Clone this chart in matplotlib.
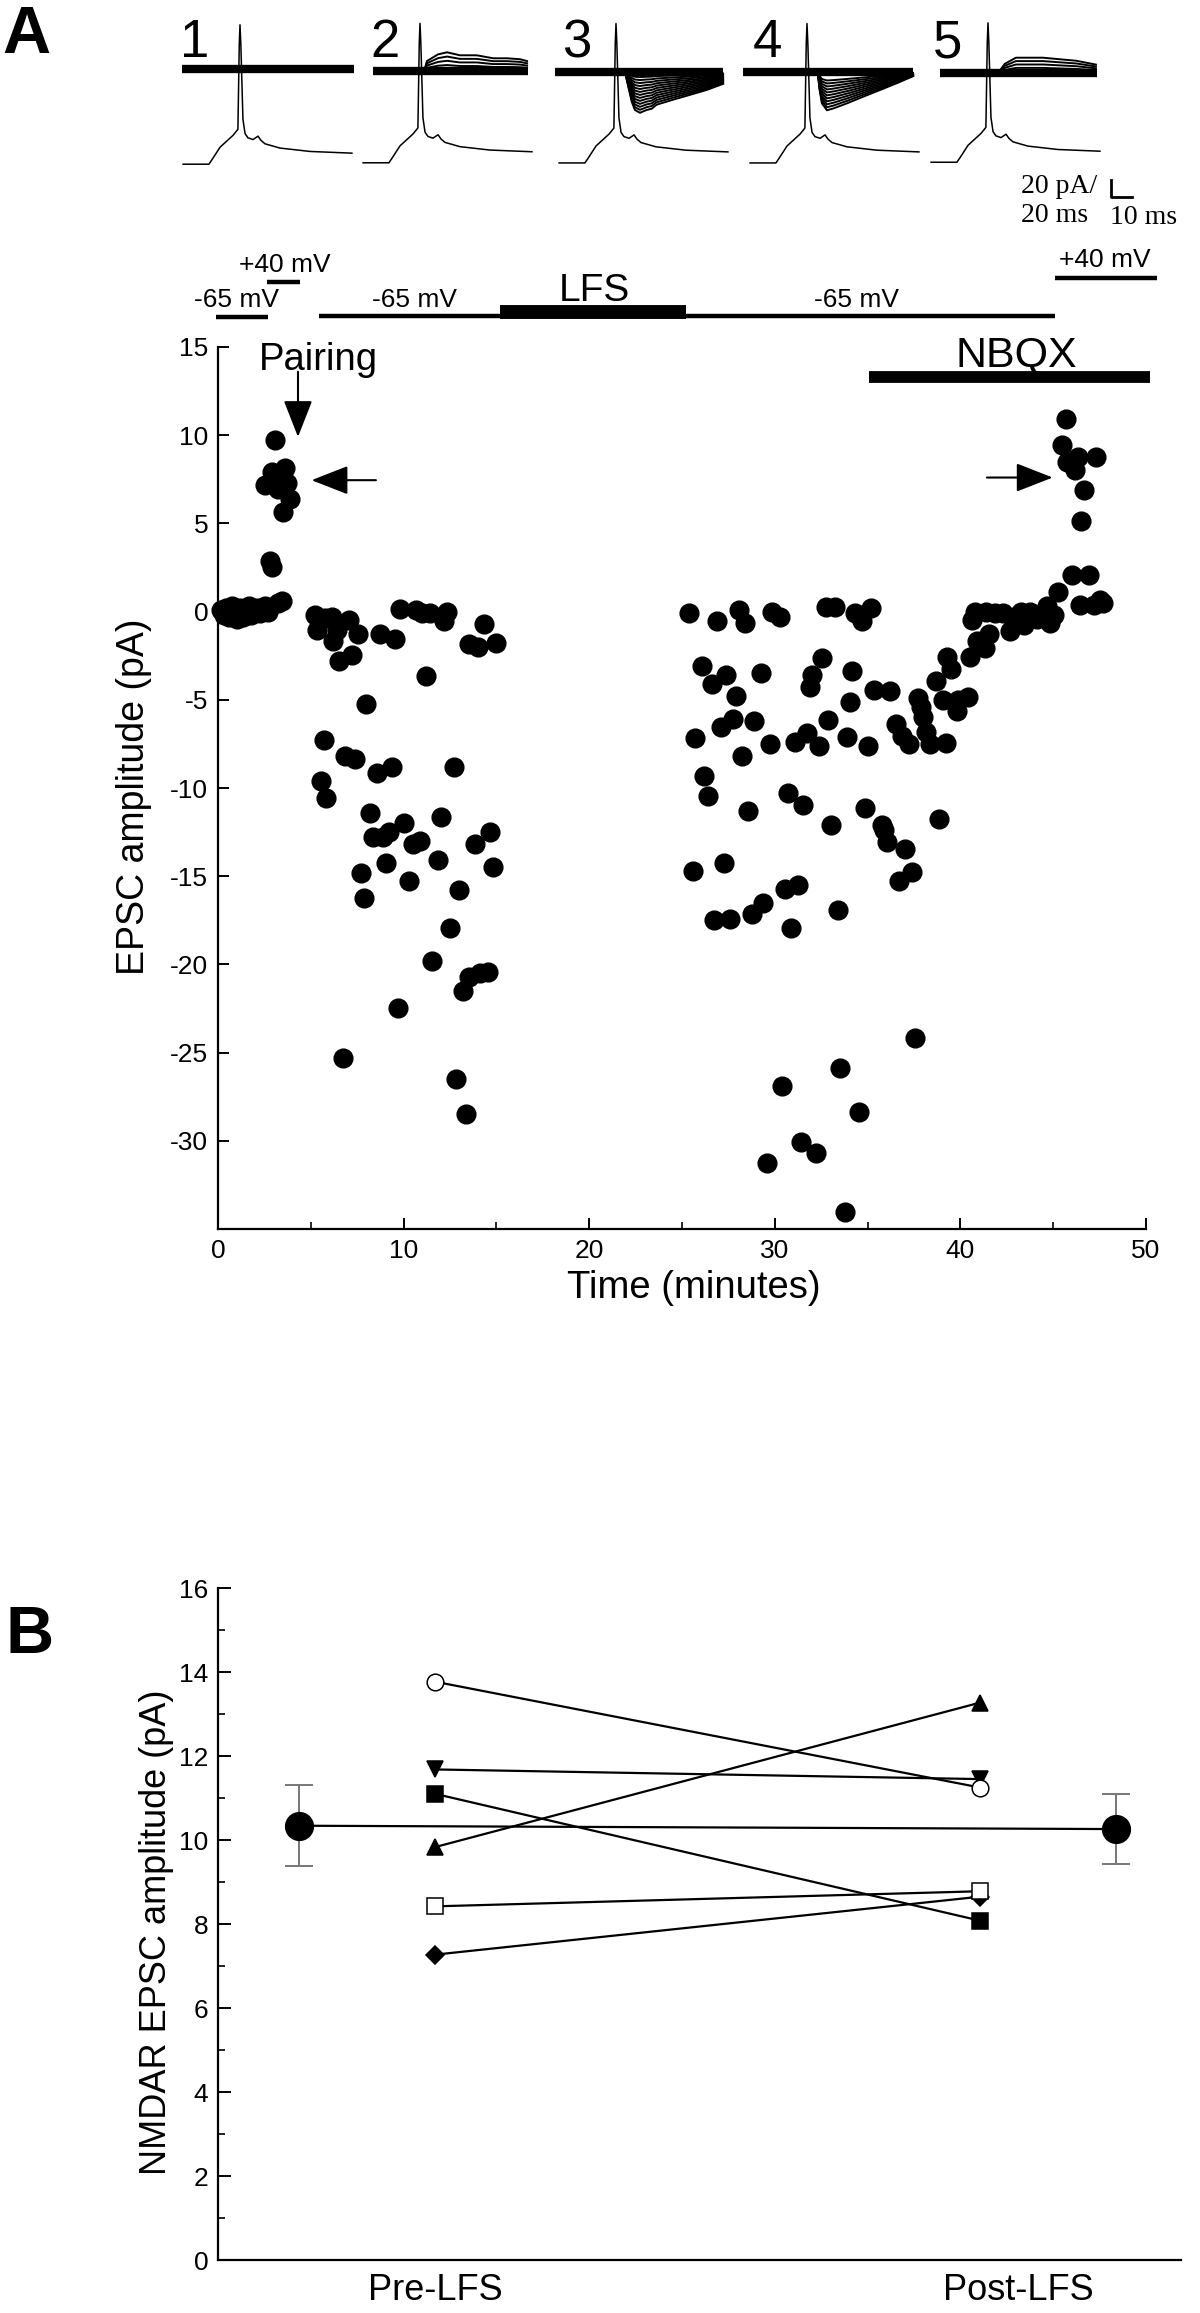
import numpy as np
import matplotlib
matplotlib.use('Agg')
import matplotlib.pyplot as plt

plt.rcParams['font.family'] = ['Liberation Sans', 'DejaVu Sans']
plt.rcParams['axes.unicode_minus'] = False

W, H = 1200, 2313

#********************************************************************************
# Panel A data: EPSC amplitude over time
#********************************************************************************
t_baseline = [0.15, 0.3, 0.45, 0.6, 0.75, 0.9, 1.05, 1.2, 1.35, 1.5, 1.65, 1.8, 1.95, 2.1, 2.25, 2.4, 2.55, 2.7]
v_baseline = [0.1, -0.2, 0.2, -0.3, 0.3, -0.1, -0.4, 0.2, -0.3, 0.1, 0.3, -0.2, 0.0, 0.2, -0.1, 0.1, 0.3, 0.0]

t_pairing = [3.07, 2.89, 2.53, 3.61, 3.70, 3.25, 3.88, 3.52, 2.80, 2.89, 3.25, 3.43]
v_pairing = [9.73, 7.93, 7.20, 8.15, 7.30, 6.97, 6.40, 5.67, 2.85, 2.50, 0.47, 0.60]

t_pre_lfs = [5.22, 5.31, 5.76, 6.12, 6.21, 6.39, 6.54, 7.07, 7.20, 7.52, 8.00, 8.72, 9.53, 9.80,
             10.66, 10.97, 11.42, 11.18, 12.32, 12.17, 13.54, 14.02, 14.33, 14.97, 5.71, 6.84,
             7.38, 5.53, 5.82, 8.55, 9.35, 12.71, 8.19, 8.33, 8.87, 9.23, 10.02, 10.52, 10.88,
             12.01, 11.83, 13.84, 14.65, 14.83, 7.70, 9.05, 10.30, 7.86, 13.00, 12.50, 11.51,
             13.54, 14.11, 14.56, 13.18, 9.68, 6.72, 12.82, 13.34]
v_pre_lfs = [-0.17, -1.06, -0.39, -0.33, -1.69, -1.06, -2.80, -0.49, -2.45, -1.28, -5.25, -1.28,
             -1.57, 0.15, 0.09, -0.10, -0.10, -3.67, 0.00, -0.55, -1.82, -2.00, -0.71, -1.76,
             -7.30, -8.17, -8.36, -9.63, -10.58, -9.15, -8.80, -8.80, -11.44, -12.80, -12.80,
             -12.48, -11.98, -13.18, -13.02, -11.66, -14.08, -13.18, -12.48, -14.50, -14.84,
             -14.27, -15.28, -16.24, -15.80, -17.94, -19.78, -20.74, -20.49, -20.43, -21.53,
             -22.46, -25.30, -26.50, -28.50]

t_post_lfs = [25.40, 26.91, 28.05, 28.37, 29.84, 30.26, 32.77, 33.25, 34.34, 34.72, 35.17, 26.10,
              26.59, 27.39, 27.91, 29.24, 32.53, 32.02, 31.88, 34.15, 34.04, 35.33, 36.23, 27.76,
              27.10, 28.90, 25.72, 29.75, 31.07, 31.73, 32.38, 32.87, 33.87, 35.04, 28.24, 26.21,
              26.40, 28.56, 30.73, 31.54, 33.02, 34.87, 35.80, 35.89, 36.04, 37.03, 37.37, 36.69,
              25.57, 27.25, 30.54, 31.26, 29.39, 28.75, 27.61, 26.72, 30.88, 33.40, 36.52, 36.84,
              37.22, 37.69, 37.88, 38.01, 38.12, 38.35, 38.69, 39.07, 39.20, 39.29, 39.48, 39.82,
              39.86, 40.39, 40.52, 40.90, 41.34, 41.52, 40.62, 40.81, 41.37, 41.85, 42.32, 42.66,
              42.89, 43.45, 43.27, 43.74, 44.12, 44.68, 44.81, 45.06, 38.86, 37.54, 33.53, 30.37,
              34.53, 31.39, 32.22, 29.56, 33.76]
v_post_lfs = [-0.10, -0.56, 0.09, -0.62, 0.00, -0.30, 0.28, 0.28, -0.10, -0.56, 0.21, -3.09,
              -4.08, -3.60, -4.80, -3.50, -2.62, -3.60, -4.30, -3.34, -5.12, -4.45, -4.50, -6.07,
              -6.55, -6.23, -7.15, -7.53, -7.40, -6.90, -7.63, -6.14, -7.10, -7.60, -8.17, -9.31,
              -10.48, -11.28, -10.27, -10.96, -12.10, -11.12, -12.10, -12.40, -13.06, -13.44,
              -14.77, -15.30, -14.71, -14.27, -15.70, -15.50, -16.50, -17.16, -17.40, -17.50,
              -17.95, -16.93, -6.36, -7.06, -7.53, -4.87, -5.40, -5.98, -6.84, -7.53, -3.91,
              -5.03, -7.47, -2.55, -3.28, -5.63, -4.99, -4.84, -2.55, -1.69, -2.08, -1.28, -0.49,
              0.00, 0.00, -0.10, -0.10, -1.12, -0.33, -0.75, 0.00, 0.00, -0.42, 0.31, -0.65,
              -0.17, -11.75, -24.15, -25.90, -26.90, -28.36, -30.08, -30.70, -31.28, -34.05]

t_nbqx = [45.25, 46.00, 46.91, 46.44, 47.20, 47.52, 47.71, 45.68, 45.49, 46.33, 47.33, 45.72, 46.19, 46.67, 46.48]
v_nbqx = [1.10, 2.05, 2.05, 0.40, 0.37, 0.63, 0.47, 10.94, 9.42, 8.78, 8.78, 8.47, 8.02, 6.88, 5.13]

# holding potential protocol (start, end, level) drawn above the axes
hold_bars = [(-0.1, 2.7, 16.7), (2.64, 4.4, 18.7), (5.45, 45.1, 16.75), (45.1, 50.6, 18.9)]
hold_labels = [('-65 mV', 0.97, 17.25), ('+40 mV', 3.6, 19.25), ('-65 mV', 10.6, 17.25),
               ('-65 mV', 34.4, 17.25), ('+40 mV', 47.8, 19.55)]
lfs_bar = (15.2, 25.2, 17.0)
nbqx_bar = (35.1, 50.2, 13.3)

#********************************************************************************
# Panel B data: NMDAR EPSC amplitude, pre vs post LFS
#********************************************************************************
categories = ['Pre-LFS', 'Post-LFS']
cell_pre = [13.77, 9.83, 11.68, 11.10, 8.42, 7.27]
cell_post = [11.25, 13.27, 11.45, 8.08, 8.78, 8.65]
cell_marker = ['o', '^', 'v', 's', 's', 'D']
cell_fill = ['white', 'black', 'black', 'black', 'white', 'black']
cell_z = [6, 4, 3, 4, 6, 3]
mean_vals = [10.34, 10.26]
mean_err = [0.96, 0.83]

#********************************************************************************
# Example traces, ms and pA
#********************************************************************************
ap_t = [-27.1, -14.8, -12.9, -9.5, -3.3, -1.0, -0.35, 0.0, 0.4, 1.4, 2.4, 3.8, 6.2, 8.6, 10.0, 11.9, 19.0, 33.3, 53.3]
ap_v = [0, 0, 7, 20, 34, 41, 141, 164, 141, 53, 36, 31, 29, 33, 28, 24, 19, 15, 13]

in3_t = [4.3, 5.9, 7.5, 9.0, 11.4, 14.6, 17.0, 19.4, 27.1, 35.2, 43.2, 51.0]
in3_f = [0, 0.37, 0.73, 0.93, 1.0, 0.93, 0.90, 0.80, 0.68, 0.56, 0.44, 0.29]
in4_t = [5.1, 6.0, 7.1, 9.5, 12.7, 19.0, 27.0, 34.8, 42.9, 50.5]
in4_f = [0, 0.47, 0.82, 1.0, 0.95, 0.82, 0.64, 0.47, 0.29, 0.11]
out2_t = [2.0, 3.3, 8.6, 12.9, 19.0, 27.0, 34.9, 41.4, 47.6, 51.0]
out2_f = [0, 0.53, 0.89, 1.0, 0.84, 0.84, 0.68, 0.68, 0.63, 0.53]
out5_t = [4.8, 8.0, 13.3, 26.2, 34.0, 42.0, 51.4]
out5_f = [0, 0.6, 1.0, 1.0, 0.9, 0.8, 0.55]

amps2 = [22, 17, 12, 7]
amps3 = [48, 44.5, 41, 37.5, 34, 30.5, 27, 23.5, 20, 16.5, 13, 9.5, 6]
amps4 = [45, 41.5, 38, 34.5, 31, 27.5, 24, 20.5, 17, 13.5, 10]
amps5 = [18, 14, 10, 6]

base_span = [(-27.6, 54.3), (-22.4, 51.4), (-29.0, 51.0), (-30.5, 50.5), (-22.9, 51.9)]
ap_offset = [112, 108, 107, 107, 105]
sweeps = [(None, None, []), (out2_t, out2_f, amps2), (in3_t, in3_f, [-a for a in amps3]),
          (in4_t, in4_f, [-a for a in amps4]), (out5_t, out5_f, amps5)]

# layout of the inset traces (pixels in the 1200x2313 figure)
spike_px = [240, 420, 616, 807, 988]
base_px = [69, 71, 72, 72, 73]
num_px = [180, 370, 562, 753, 933]
PX_MS = 2.1
PX_PA = 0.85

#********************************************************************************
# Figure
#********************************************************************************
fig = plt.figure(figsize=(12, 23.13), dpi=100)

fig.text(2 / W, 1 - 53 / H, 'A', fontsize=48, fontweight='bold', va='baseline')
fig.text(6 / W, 1 - 1653 / H, 'B', fontsize=48, fontweight='bold', va='baseline')

# inset traces
for i in range(5):
    left = (spike_px[i] - 35 * PX_MS) / W
    bottom = 1 - (base_px[i] + 170 * PX_PA) / H
    axi = fig.add_axes([left, bottom, 95 * PX_MS / W, 250 * PX_PA / H])
    axi.set_xlim(-35, 60)
    axi.set_ylim(-170, 80)
    axi.axis('off')
    axi.patch.set_alpha(0)
    axi.plot(base_span[i], [0, 0], color='black', lw=6, solid_capstyle='butt')
    st, sf, amps = sweeps[i]
    for a in amps:
        axi.plot(st, np.array(sf) * a, color='black', lw=1.4)
    axi.plot(ap_t, np.array(ap_v) - ap_offset[i], color='black', lw=1.1)
    fig.text(num_px[i] / W, 1 - 57 / H, str(i + 1), fontsize=38, va='baseline')
    if i == 4:
        # scale bar: 20 pA / 10 ms
        axi.plot([58.6, 58.6, 68.6], [-126, -146, -146], color='black', lw=2, clip_on=False)

fig.text(1021 / W, 1 - 193 / H, '20 pA/', fontsize=20, family='Liberation Serif', va='baseline')
fig.text(1021 / W, 1 - 222 / H, '20 ms', fontsize=20, family='Liberation Serif', va='baseline')
fig.text(1110 / W, 1 - 224 / H, '10 ms', fontsize=20, family='Liberation Serif', va='baseline')

#********************************************************************************
# Panel A
#********************************************************************************
ax = fig.add_axes([218 / W, 1 - 1229 / H, 928 / W, 882 / H])
t_all = np.concatenate([t_baseline, t_pairing, t_pre_lfs, t_post_lfs, t_nbqx])
v_all = np.concatenate([v_baseline, v_pairing, v_pre_lfs, v_post_lfs, v_nbqx])
ax.plot(t_all, v_all, 'o', color='black', markersize=13.5, clip_on=False, zorder=3)

ax.set_xlim(0, 50)
ax.set_ylim(-35, 15)
ax.set_xticks([0, 10, 20, 30, 40, 50])
ax.set_xticks([5, 15, 25, 35, 45], minor=True)
ax.set_yticks(range(-30, 16, 5))
for s in ['top', 'right']:
    ax.spines[s].set_visible(False)
for s in ['left', 'bottom']:
    ax.spines[s].set_linewidth(1.6)
ax.tick_params(which='major', direction='in', length=8, width=1.4, labelsize=19, pad=7)
ax.tick_params(which='minor', direction='in', length=5, width=1.2)
ax.set_xlabel('Time (minutes)', fontsize=27.5)
ax.set_ylabel('EPSC amplitude (pA)', fontsize=27)
ax.xaxis.set_label_coords(0.513, -0.046)
ax.yaxis.set_label_coords(-0.071, 0.49)

for x0, x1, lev in hold_bars:
    ax.plot([x0, x1], [lev, lev], color='black', lw=3.2, solid_capstyle='butt', clip_on=False)
ax.plot(lfs_bar[:2], [lfs_bar[2]] * 2, color='black', lw=10, solid_capstyle='butt', clip_on=False)
ax.plot(nbqx_bar[:2], [nbqx_bar[2]] * 2, color='black', lw=8.5, solid_capstyle='butt', clip_on=False)
for txt, x, y in hold_labels:
    ax.text(x, y, txt, fontsize=19, ha='center', va='baseline')
ax.text(20.3, 17.6, 'LFS', fontsize=28, ha='center', va='baseline')
ax.text(43.0, 13.9, 'NBQX', fontsize=31, ha='center', va='baseline')
ax.text(2.2, 13.7, 'Pairing', fontsize=27.5, ha='left', va='baseline')

arrow = dict(arrowstyle='-|>,head_length=1.15,head_width=0.45', mutation_scale=20,
             lw=1.5, color='black', shrinkA=0, shrinkB=0)
ax.annotate('', xy=(4.31, 9.9), xytext=(4.31, 13.6), arrowprops=arrow)
ax.annotate('', xy=(5.04, 7.45), xytext=(8.51, 7.45), arrowprops=arrow)
ax.annotate('', xy=(44.97, 7.6), xytext=(41.43, 7.6), arrowprops=arrow)

#********************************************************************************
# Panel B
#********************************************************************************
bx = fig.add_axes([218 / W, 1 - 2260 / H, 963 / W, 672 / H])
xpos = [0, 1]
mean_x = [-0.25, 1.25]
for pre, post, m, fc, z in zip(cell_pre, cell_post, cell_marker, cell_fill, cell_z):
    bx.plot(xpos, [pre, post], '-', color='black', lw=1.6, zorder=2)
    ms = 9 if m == 'D' else 12
    bx.plot(xpos, [pre, post], m, markersize=ms, markerfacecolor=fc,
            markeredgecolor='black', markeredgewidth=1.1, zorder=z)
bx.plot(mean_x, mean_vals, '-', color='black', lw=1.6, zorder=2)
bx.errorbar(mean_x, mean_vals, yerr=mean_err, fmt='none', ecolor='#777777',
            elinewidth=1.4, capsize=10, capthick=1.4, zorder=1)
bx.plot(mean_x, mean_vals, 'o', color='black', markersize=20, zorder=5)

bx.set_xlim(-0.398, 1.369)
bx.set_ylim(0, 16)
bx.set_yticks(range(0, 17, 2))
bx.set_yticks(range(1, 16, 2), minor=True)
bx.set_xticks([0, 1.07])
bx.set_xticklabels(categories, fontsize=26)
for s in ['top', 'right']:
    bx.spines[s].set_visible(False)
for s in ['left', 'bottom']:
    bx.spines[s].set_linewidth(1.6)
bx.tick_params(axis='y', which='major', direction='in', length=9, width=1.4, labelsize=19, pad=7)
bx.tick_params(axis='y', which='minor', direction='in', length=5, width=1.2)
bx.tick_params(axis='x', length=0, pad=9)
bx.set_ylabel('NMDAR EPSC amplitude (pA)', fontsize=26)
bx.yaxis.set_label_coords(-0.046, 0.487)

fig.savefig('out.png', dpi=100)
